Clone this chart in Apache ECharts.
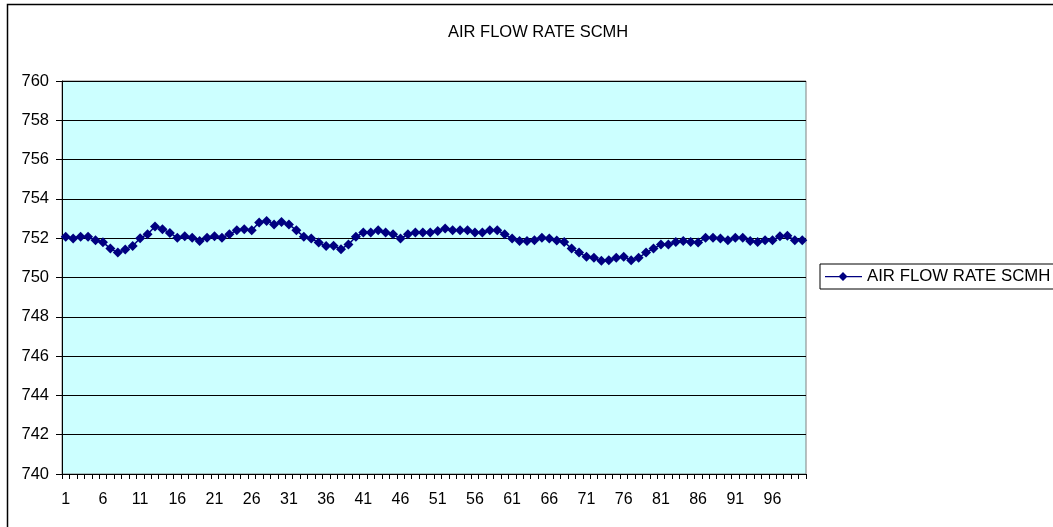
<!DOCTYPE html>
<html>
<head>
<meta charset="utf-8">
<script src="https://cdn.jsdelivr.net/npm/echarts@6/dist/echarts.min.js"></script>
<style>
html, body { margin: 0; padding: 0; background: #fff; }
#chart-container { width: 1053px; height: 527px; }
</style>
</head>
<body>
<div id="chart-container"></div>
<script>
var seriesName = 'AIR FLOW RATE SCMH';

var categories = [];
for (var i = 1; i <= 100; i++) categories.push(String(i));

var airFlow = [
    752.07, 751.98, 752.07, 752.07, 751.90, 751.80, 751.47, 751.27, 751.42, 751.60,
    752.00, 752.20, 752.60, 752.46, 752.27, 752.02, 752.10, 752.02, 751.86, 752.02,
    752.10, 752.02, 752.20, 752.40, 752.46, 752.40, 752.80, 752.88, 752.70, 752.83,
    752.70, 752.40, 752.08, 751.98, 751.78, 751.60, 751.61, 751.44, 751.68, 752.07,
    752.29, 752.29, 752.40, 752.29, 752.20, 751.98, 752.20, 752.29, 752.29, 752.29,
    752.37, 752.49, 752.40, 752.40, 752.40, 752.29, 752.29, 752.40, 752.40, 752.20,
    751.98, 751.86, 751.86, 751.90, 752.02, 751.98, 751.88, 751.81, 751.47, 751.27,
    751.05, 751.00, 750.85, 750.88, 751.00, 751.05, 750.88, 751.00, 751.27, 751.47,
    751.68, 751.68, 751.81, 751.86, 751.81, 751.78, 752.02, 752.02, 751.98, 751.90,
    752.02, 752.02, 751.86, 751.81, 751.90, 751.90, 752.10, 752.12, 751.90, 751.90
];

var yMin = 740;
var yMax = 760;
var yStep = 2;

var dom = document.getElementById('chart-container');
var myChart = echarts.init(dom, null, { renderer: 'canvas' });

var font = '"Liberation Sans", Arial, sans-serif';

var option = {
    backgroundColor: '#ffffff',
    animation: false,
    title: {
        text: seriesName,
        left: 443,
        top: 19,
        textStyle: { fontFamily: font, fontSize: 16.5, fontWeight: 'normal', color: '#000' }
    },
    graphic: [{
        type: 'rect',
        left: 5,
        top: 2,
        shape: { width: 1100, height: 600 },
        style: { fill: 'none', stroke: '#000', lineWidth: 1.5 },
        silent: true
    }],
    legend: {
        left: 820,
        top: 264,
        orient: 'vertical',
        padding: [4, 12, 4, 5],
        borderColor: '#000',
        borderWidth: 1,
        itemWidth: 37,
        itemHeight: 9,
        textStyle: { fontFamily: font, fontSize: 16.8, color: '#000' },
        data: [{ name: seriesName, icon: 'path://M0,4 L37,4 L37,5.2 L0,5.2 Z M18,0 L22.5,4.5 L18,9 L13.5,4.5 Z' }]
    },
    grid: {
        left: 62,
        right: 247,
        top: 81,
        bottom: 53,
        show: true,
        backgroundColor: '#ccffff',
        borderColor: '#808080',
        borderWidth: 1
    },
    xAxis: {
        type: 'category',
        data: categories,
        boundaryGap: true,
        axisLine: { lineStyle: { color: '#000', width: 1 } },
        axisTick: { show: true, interval: 0, length: 5, lineStyle: { color: '#000' } },
        axisLabel: {
            interval: 4,
            margin: 18,
            fontFamily: font,
            fontSize: 16,
            color: '#000'
        },
        splitLine: { show: false }
    },
    yAxis: {
        type: 'value',
        min: yMin,
        max: yMax,
        interval: yStep,
        axisLine: { show: true, lineStyle: { color: '#000', width: 1 } },
        axisTick: { show: true, length: 6, lineStyle: { color: '#000' } },
        axisLabel: {
            margin: 13,
            fontFamily: font,
            fontSize: 16.5,
            color: '#000'
        },
        splitLine: { show: true, lineStyle: { color: '#000', width: 1 } }
    },
    series: [{
        name: seriesName,
        type: 'line',
        data: airFlow,
        symbol: 'diamond',
        symbolSize: 10,
        showAllSymbol: true,
        color: '#000080',
        lineStyle: { color: '#000080', width: 1.5 },
        itemStyle: { color: '#000080' }
    }]
};

myChart.setOption(option);
window.addEventListener('resize', myChart.resize);
</script>
</body>
</html>
